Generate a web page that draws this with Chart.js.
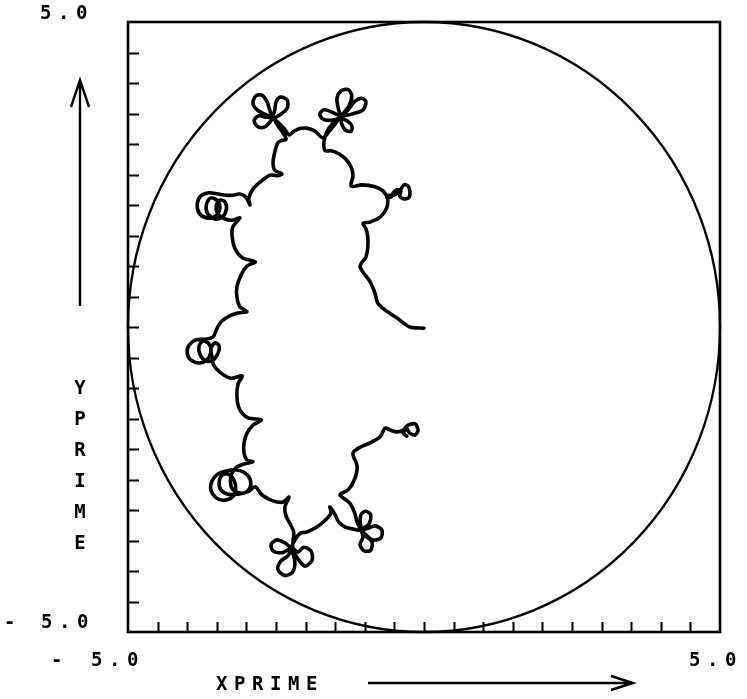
<!DOCTYPE html>
<html>
<head>
<meta charset="utf-8">
<script src="https://cdn.jsdelivr.net/npm/chart.js@4/dist/chart.umd.min.js"></script>
<style>
  html, body { margin: 0; padding: 0; background: #fff; }
  #wrap { width: 747px; height: 699px; }
</style>
</head>
<body>
<div id="wrap"><canvas id="c" width="747" height="699"></canvas></div>
<script>
// Axis range, boundary circle and tick marks
const axisMin = -5, axisMax = 5;
const boundaryRadius = 5;
const xTickValues = [-4.5, -4, -3.5, -3, -2.5, -2, -1.5, -1, -0.5, 0, 0.5, 1, 1.5, 2, 2.5, 3, 3.5, 4, 4.5];
const yTickValues = [-4.5, -4, -3.5, -3, -2.5, -2, -1.5, -1, -0.5, 0, 0.5, 1, 1.5, 2, 2.5, 3, 3.5, 4, 4.5];
const xEndLabels = ['- 5.0', '5.0'];
const yEndLabels = ['5.0', '- 5.0'];
const xTitle = 'XPRIME';
const yTitle = 'YPRIME';

// Trajectory (XPRIME, YPRIME), in drawing order, split by section
const tail = [[0.00,-0.02],[-0.24,0.00],[-0.46,0.15],[-0.66,0.28],[-0.78,0.39],[-0.83,0.56],[-0.91,0.74],[-1.03,0.90],[-1.08,1.00],[-0.98,1.15],[-0.95,1.30],[-0.95,1.48],[-0.98,1.61],[-1.03,1.70],[-0.91,1.72],[-0.74,1.80],[-0.63,1.95],[-0.61,2.08],[-0.63,2.15]];
const knotNE = [[-0.52,2.16],[-0.44,2.20],[-0.39,2.26],[-0.34,2.33],[-0.27,2.31],[-0.24,2.23],[-0.25,2.13],[-0.34,2.10],[-0.41,2.15],[-0.39,2.23],[-0.46,2.25],[-0.52,2.20],[-0.56,2.13],[-0.63,2.15]];
const bumpsNE = [[-0.69,2.23],[-0.83,2.30],[-1.05,2.33],[-1.23,2.31],[-1.20,2.48],[-1.23,2.62],[-1.32,2.75],[-1.44,2.84],[-1.57,2.89],[-1.67,2.89]];
const flowerNE = [[-1.69,3.03],[-1.64,3.20],[-1.54,3.34],[-1.42,3.44],
  [-1.55,3.52],[-1.69,3.56],[-1.76,3.49],[-1.71,3.41],[-1.57,3.39],[-1.42,3.44],
  [-1.45,3.59],[-1.47,3.75],[-1.40,3.87],[-1.28,3.89],[-1.22,3.79],[-1.27,3.62],[-1.42,3.44],
  [-1.28,3.56],[-1.17,3.70],[-1.05,3.75],[-0.98,3.69],[-1.03,3.56],[-1.22,3.49],[-1.42,3.44],
  [-1.30,3.38],[-1.22,3.30],[-1.23,3.21],[-1.33,3.23],[-1.39,3.33],[-1.42,3.44],
  [-1.50,3.33],[-1.60,3.21],[-1.71,3.10]];
const arcN = [[-1.84,3.21],[-1.98,3.26],[-2.11,3.25],[-2.21,3.20],[-2.28,3.15]];
const flowerNW = [[-2.36,3.25],[-2.47,3.36],[-2.55,3.43],
  [-2.52,3.56],[-2.50,3.69],[-2.42,3.77],[-2.31,3.72],[-2.31,3.59],[-2.43,3.48],[-2.55,3.43],
  [-2.60,3.54],[-2.65,3.69],[-2.74,3.80],[-2.84,3.79],[-2.89,3.67],[-2.82,3.56],[-2.69,3.49],[-2.55,3.43],
  [-2.67,3.44],[-2.80,3.46],[-2.87,3.38],[-2.80,3.28],[-2.69,3.28],[-2.60,3.36],[-2.55,3.43],
  [-2.47,3.30],[-2.38,3.18],[-2.33,3.08],[-2.42,3.05],[-2.47,3.02]];
const bumpsNW = [[-2.52,2.87],[-2.55,2.70],[-2.52,2.57],[-2.40,2.51],[-2.48,2.48],[-2.60,2.49],[-2.75,2.39],[-2.89,2.26],[-2.96,2.11],[-2.94,2.00],[-3.01,2.13],[-3.11,2.18],[-3.24,2.16]];
const spiralNW = [[-3.34,2.16],[-3.48,2.18],[-3.63,2.20],[-3.77,2.15],[-3.83,2.02],[-3.80,1.87],[-3.68,1.79],[-3.55,1.80],[-3.46,1.90],[-3.46,2.03],[-3.55,2.11],[-3.63,2.10],[-3.68,1.98],[-3.65,1.85],[-3.53,1.77],[-3.41,1.80],[-3.34,1.92],[-3.36,2.05],[-3.45,2.08],[-3.51,1.98],[-3.48,1.85],[-3.36,1.77],[-3.23,1.75],[-3.11,1.79]];
const bumpsW = [[-3.23,1.64],[-3.24,1.48],[-3.19,1.28],[-3.06,1.13],[-2.85,1.07],[-2.99,1.00],[-3.09,0.85],[-3.16,0.66],[-3.16,0.49],[-3.11,0.33],[-2.99,0.25],[-3.14,0.23],[-3.29,0.18],[-3.43,0.08],[-3.51,-0.05]];
const spiralW = [[-3.56,-0.16],[-3.68,-0.20],[-3.85,-0.21],[-3.97,-0.30],[-4.00,-0.43],[-3.94,-0.54],[-3.80,-0.59],[-3.67,-0.54],[-3.60,-0.41],[-3.63,-0.28],[-3.73,-0.23],[-3.80,-0.31],[-3.78,-0.46],[-3.68,-0.56],[-3.56,-0.54],[-3.48,-0.43],[-3.46,-0.31],[-3.53,-0.26],[-3.60,-0.36],[-3.58,-0.49],[-3.56,-0.61]];
const bumpsSW = [[-3.45,-0.74],[-3.26,-0.84],[-3.07,-0.80],[-3.14,-0.93],[-3.16,-1.15],[-3.11,-1.36],[-2.97,-1.49],[-2.75,-1.52],[-2.89,-1.61],[-2.99,-1.74],[-3.04,-1.90],[-3.04,-2.07],[-2.99,-2.18],[-2.89,-2.21]];
const spiralSW = [[-3.06,-2.25],[-3.18,-2.31],[-3.26,-2.44],[-3.26,-2.61],[-3.18,-2.70],[-3.04,-2.72],[-2.94,-2.64],[-2.94,-2.49],[-3.04,-2.38],[-3.19,-2.34],[-3.34,-2.36],[-3.48,-2.41],[-3.58,-2.52],[-3.60,-2.67],[-3.51,-2.80],[-3.38,-2.84],[-3.24,-2.79],[-3.18,-2.66],[-3.21,-2.51],[-3.31,-2.41],[-3.41,-2.43],[-3.46,-2.54],[-3.43,-2.67],[-3.31,-2.74],[-3.14,-2.74],[-2.97,-2.70],[-2.85,-2.62]];
const arcS = [[-2.74,-2.75],[-2.55,-2.85],[-2.38,-2.87],[-2.28,-2.79],[-2.35,-2.95],[-2.33,-3.10],[-2.26,-3.23],[-2.20,-3.36],[-2.21,-3.49],[-2.23,-3.62]];
const flowerSW = [[-2.35,-3.54],[-2.48,-3.49],[-2.58,-3.56],[-2.55,-3.67],[-2.40,-3.70],[-2.23,-3.62],
  [-2.30,-3.75],[-2.42,-3.84],[-2.47,-3.97],[-2.36,-4.07],[-2.23,-4.03],[-2.18,-3.87],[-2.23,-3.62],
  [-2.13,-3.69],[-2.03,-3.61],[-1.91,-3.67],[-1.89,-3.82],[-2.01,-3.92],[-2.13,-3.80],[-2.23,-3.62],
  [-2.18,-3.49],[-2.09,-3.38]];
const arcSE = [[-1.98,-3.36],[-1.81,-3.28],[-1.66,-3.16],[-1.57,-3.05],[-1.59,-2.95],[-1.50,-3.08],[-1.44,-3.20],[-1.33,-3.28],[-1.20,-3.31],[-1.06,-3.33]];
const flowerSE = [[-1.08,-3.20],[-1.06,-3.07],[-0.98,-3.02],[-0.90,-3.08],[-0.93,-3.23],[-1.06,-3.33],
  [-0.95,-3.30],[-0.83,-3.26],[-0.71,-3.33],[-0.73,-3.46],[-0.86,-3.49],[-0.98,-3.41],[-1.06,-3.33],
  [-1.03,-3.44],[-1.08,-3.57],[-1.01,-3.67],[-0.90,-3.66],[-0.88,-3.52],[-1.00,-3.41],[-1.06,-3.33],
  [-1.13,-3.20],[-1.17,-3.05],[-1.25,-2.89],[-1.42,-2.75]];
const bumpsE = [[-1.28,-2.67],[-1.17,-2.49],[-1.13,-2.28],[-1.20,-2.07],[-1.08,-1.97],[-0.91,-1.90],[-0.74,-1.80],[-0.66,-1.66],[-0.57,-1.69],[-0.46,-1.72]];
const knotSE = [[-0.35,-1.69],[-0.27,-1.61],[-0.15,-1.59],[-0.10,-1.69],[-0.15,-1.77],[-0.24,-1.74],[-0.29,-1.67],[-0.35,-1.74],[-0.29,-1.79]];

const sections = [tail, knotNE, bumpsNE, flowerNE, arcN, flowerNW, bumpsNW, spiralNW, bumpsW,
  spiralW, bumpsSW, spiralSW, arcS, flowerSW, arcSE, flowerSE, bumpsE, knotSE];
const trajectory = sections.flat().map(([x, y]) => ({ x, y }));

const FONT = 'bold 19px "DejaVu Sans Mono", "Liberation Mono", monospace';
const PITCH = 18;

function spaced(ctx, text, x, y, pitch) {
  ctx.textAlign = 'left';
  ctx.textBaseline = 'alphabetic';
  for (let i = 0; i < text.length; i++) {
    if (text[i] !== ' ') ctx.fillText(text[i], x + i * pitch, y);
  }
}

const framePlugin = {
  id: 'plotFrame',
  beforeDraw(chart) {
    const ctx = chart.ctx;
    ctx.save();
    ctx.fillStyle = '#fff';
    ctx.fillRect(0, 0, chart.width, chart.height);
    ctx.restore();
  },
  beforeDatasetsDraw(chart) {
    const { ctx, scales: { x, y } } = chart;
    const cx = x.getPixelForValue(0), cy = y.getPixelForValue(0);
    const rx = x.getPixelForValue(boundaryRadius) - cx;
    const ry = cy - y.getPixelForValue(boundaryRadius);
    ctx.save();
    ctx.strokeStyle = '#000';
    ctx.lineWidth = 2.3;
    ctx.beginPath();
    ctx.ellipse(cx, cy, rx, ry, 0, 0, Math.PI * 2);
    ctx.stroke();
    ctx.restore();
  },
  afterDraw(chart) {
    const { ctx, chartArea: a, scales: { x, y } } = chart;
    ctx.save();
    ctx.strokeStyle = '#000';
    ctx.fillStyle = '#000';
    ctx.lineCap = 'butt';

    // plot frame
    ctx.lineWidth = 2.6;
    ctx.strokeRect(a.left, a.top, a.right - a.left, a.bottom - a.top);

    // inward tick marks on the left and bottom edges
    ctx.lineWidth = 2;
    ctx.beginPath();
    yTickValues.forEach(v => {
      const py = Math.round(y.getPixelForValue(v)) + 0.5;
      ctx.moveTo(a.left, py); ctx.lineTo(a.left + 11, py);
    });
    xTickValues.forEach(v => {
      const px = Math.round(x.getPixelForValue(v)) + 0.5;
      ctx.moveTo(px, a.bottom); ctx.lineTo(px, a.bottom - 10);
    });
    ctx.stroke();

    // end labels
    ctx.font = FONT;
    spaced(ctx, yEndLabels[0], 40, 19, PITCH);
    ctx.fillText('-', 4, 628);
    spaced(ctx, yEndLabels[1].replace('- ', ''), 41, 628, PITCH);
    ctx.fillText('-', 51, 666);
    spaced(ctx, xEndLabels[0].replace('- ', ''), 91, 666, PITCH);
    spaced(ctx, xEndLabels[1], 689, 666, PITCH);

    // axis titles
    spaced(ctx, xTitle, 216, 690, PITCH);
    ctx.textAlign = 'center';
    for (let i = 0; i < yTitle.length; i++) {
      ctx.fillText(yTitle[i], 80, 394 + i * 31);
    }

    // arrows
    ctx.lineWidth = 2.4;
    ctx.beginPath();
    ctx.moveTo(368, 683); ctx.lineTo(632, 683);
    ctx.moveTo(611, 676); ctx.lineTo(633, 683); ctx.lineTo(611, 690);
    ctx.moveTo(80, 306); ctx.lineTo(80, 81);
    ctx.moveTo(71, 107); ctx.lineTo(80, 80); ctx.lineTo(89, 107);
    ctx.stroke();
    ctx.restore();
  }
};

new Chart(document.getElementById('c'), {
  type: 'scatter',
  data: {
    datasets: [{
      data: trajectory,
      showLine: true,
      borderColor: '#000',
      borderWidth: 3.6,
      pointRadius: 0,
      tension: 0.3,
      borderJoinStyle: 'round',
      borderCapStyle: 'round',
      fill: false
    }]
  },
  options: {
    responsive: false,
    animation: false,
    devicePixelRatio: 1,
    layout: { padding: { left: 128, top: 22, right: 27, bottom: 67 } },
    scales: {
      x: { type: 'linear', min: axisMin, max: axisMax, display: false },
      y: { type: 'linear', min: axisMin, max: axisMax, display: false }
    },
    plugins: { legend: { display: false }, tooltip: { enabled: false } }
  },
  plugins: [framePlugin]
});
</script>
</body>
</html>
